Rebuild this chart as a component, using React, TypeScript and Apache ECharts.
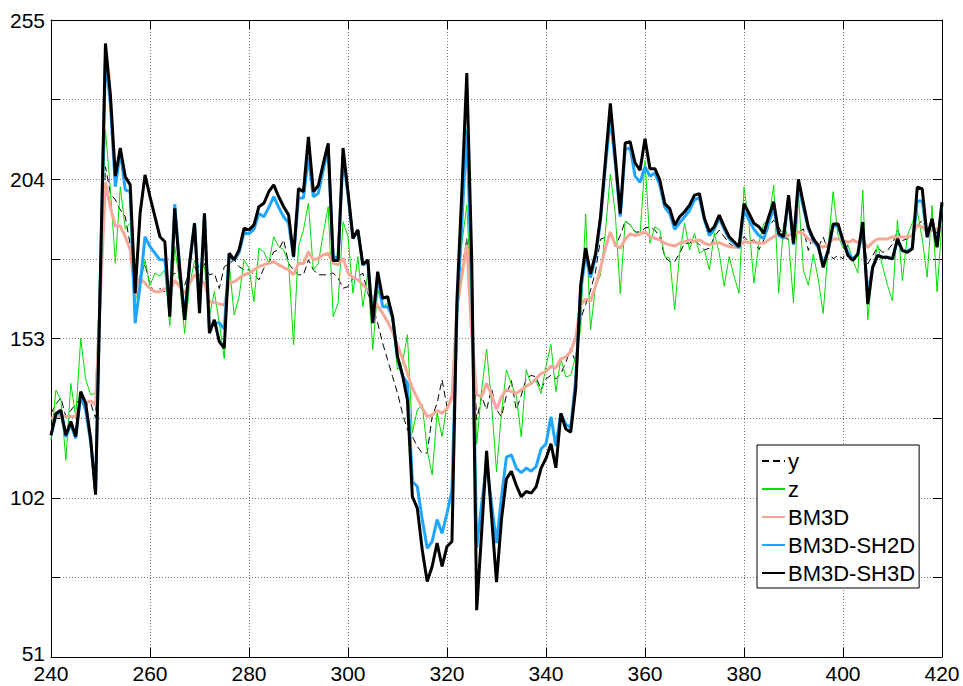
import React, { useEffect, useRef } from "react";
import * as echarts from "echarts";

const X_START = 240;

const SERIES_NAMES = ["y", "z", "BM3D", "BM3D-SH2D", "BM3D-SH3D"];

// reference y (dashed)
const Y_VALUES = [
  129, 132, 134, 128, 130, 132, 134, 131.7, 132.3, 127.5,
  168, 208, 199.5, 197.4, 194.2, 192, 183, 168, 173, 177,
  170, 168, 169, 168, 172, 174, 172, 170, 175, 176,
  173, 177, 173.4, 173.9, 169, 176, 177, 178.2, 176, 175,
  175, 173.4, 171.8, 175.5, 177.1, 180.8, 181.4, 184.6, 177, 175,
  173.4, 173.4, 178.2, 175, 173.4, 173.4, 173.4, 174, 172.3, 169.1,
  169.6, 172.3, 172.8, 173.9, 167.5, 163.2, 157.9, 151.5, 146.2, 140.8,
  135.5, 129.1, 123.8, 121.6, 118.4, 116.3, 116.3, 128, 132.3, 139.8,
  131, 135, 160, 175, 185, 158, 127, 134.4, 130.2, 137,
  130.2, 127.9, 134.8, 139.5, 130.2, 134.8, 140.1, 141.2, 140.7, 136.6,
  140.1, 141.2, 140.1, 141.8, 145.3, 149.9, 145.3, 159.2, 163.9, 168.5,
  174.3, 184.8, 185.4, 186.5, 182.5, 186, 190.6, 189.4, 187.1, 187.1,
  188.3, 188.8, 187.7, 185.6, 179.2, 177.6, 177.6, 180.3, 183.5, 183.5,
  184.6, 183, 181.4, 181.9, 185.6, 187.7, 185.6, 183.5, 182.4, 181.9,
  185.6, 184, 184.6, 181.4, 184.6, 188.8, 190.9, 188.8, 185.6, 184.6,
  185, 187, 188.1, 181.2, 186, 182.2, 185.5, 181.2, 178.5, 179.6,
  178.5, 183.3, 184.9, 183.8, 185.5, 176.9, 179.6, 182.2, 180.6, 181.2,
  183.3, 187.6, 184.4, 184.9, 186, 189.2, 190.8, 187.6, 189.7, 186.5,
  188.7,
];

// noisy observation z (green)
const Z_VALUES = [
  120.5, 136.5, 133.3, 114, 138.6, 128, 153, 140, 135, 135.5,
  178, 219.8, 200.6, 177.1, 201.6, 188, 190, 165, 170, 178,
  170, 174, 173, 175, 157, 182.5, 170.7, 154.6, 170, 178,
  176, 176, 160, 168, 158, 146.6, 177, 160.5, 166.4, 178.2,
  175.5, 164.8, 181.9, 180.8, 177.1, 185.6, 182.4, 181.4, 177.1, 151,
  182.4, 187.8, 196.3, 175, 177, 186.7, 195.2, 160, 164.3, 190.4,
  185.7, 167.5, 179.2, 163.2, 173.9, 149.4, 168.6, 163.2, 164.3, 157.9,
  143, 145.1, 154.2, 122.7, 130.2, 131.8, 117.3, 109.3, 129.1, 121.6,
  131.5, 133.9, 168, 183.3, 195.7, 163.3, 119.1, 136.6, 149.6, 132.3,
  110.3, 129, 143, 138.3, 134.8, 121.5, 143, 138.3, 139.5, 135.4,
  144.1, 151.1, 136, 146.5, 140.7, 141.2, 147.6, 155.8, 192.9, 155.8,
  169.7, 173.2, 187, 205.7, 192.9, 167.4, 190.6, 189.4, 187.1, 186,
  210, 183.5, 188.8, 187.7, 179.2, 178.7, 162.2, 180.3, 189.9, 181.4,
  186.7, 180.3, 181.4, 175, 186.7, 180.3, 169.7, 179.2, 172.9, 167.5,
  201.5, 189.9, 170.7, 183.5, 189.9, 190.9, 202.1, 167.5, 189.9, 184.6,
  164.4, 199.4, 175, 170, 180, 172, 161, 182, 200, 186,
  182, 183, 178, 174, 200.5, 159, 175, 183, 176, 170,
  165, 191, 171.5, 186, 190, 194, 185, 172.6, 195.6, 168,
  190,
];

const BM3D_VALUES = [
  127.4, 128, 128, 128, 128, 128, 132.8, 132.3, 133, 131.7,
  167, 203, 195, 189, 189, 185.6, 181.4, 166.4, 172.3, 170.7,
  169.1, 168, 168, 169, 168, 171.7, 169.6, 167.5, 170.7, 173.4,
  171.7, 170.7, 164.8, 164.5, 164.1, 163.7, 170.7, 171.2, 172.3, 173.4,
  173.9, 175, 176, 176.6, 177.1, 177.6, 176.6, 175.8, 175, 173.4,
  177.1, 177, 180.8, 178.2, 178.7, 179.8, 180.3, 177.1, 176.6, 178.7,
  174, 172.5, 171.8, 170.2, 168.6, 166.4, 163.4, 161.1, 158.4, 155.2,
  150.9, 146.7, 141.9, 137.1, 133.9, 130.7, 128, 128.5, 129.9, 129.1,
  130.5, 134, 163, 173, 183, 154, 135, 134.4, 138.6, 135,
  130.3, 134.3, 136.6, 136, 135.4, 136.6, 137.7, 138.6, 140.1, 141.8,
  142.4, 144.1, 143.6, 146.5, 147.1, 148.8, 153.4, 163.9, 165.6, 165,
  169.7, 175.5, 181.9, 187.1, 183, 181.9, 184.8, 186.5, 186, 186.5,
  187.1, 185.6, 185.1, 184.6, 183.5, 183, 182.6, 183.5, 184, 184.6,
  184, 184.6, 183.5, 183, 183.5, 183.7, 183, 182.4, 182.2, 182.4,
  184, 183.7, 184, 183.5, 183.5, 184.6, 185.6, 186.7, 185.1, 186.1,
  186.5, 187.1, 186.5, 184.9, 183.8, 182.8, 182.2, 183.3, 184.9, 184.9,
  184.4, 183.8, 184.4, 183.8, 184.4, 182.2, 183.8, 184.9, 184.9, 184.9,
  185.5, 185.5, 185.5, 185.5, 186, 189.2, 188.7, 187.1, 187.6, 188.1,
  188.1,
];

const SH2D_VALUES = [
  122, 128.5, 129.5, 121.5, 125.5, 121, 135, 130, 120, 104,
  174, 243.3, 228, 201.6, 213, 200.6, 200, 157.9, 170, 185.6,
  182.4, 180.3, 178.2, 178.2, 162, 196, 176, 160, 177, 190,
  163, 193, 156, 158, 158, 156, 180, 178, 180.5, 187,
  186.5, 188, 193, 192, 195, 198.4, 195, 192, 190, 179,
  198, 198, 211.2, 198.4, 199.5, 207, 213.6, 179, 179, 211,
  199, 185, 187.5, 176.5, 178, 158.5, 173, 163.2, 163.2, 160,
  147, 141, 138.7, 107.2, 105.6, 95, 85.8, 88, 95, 90.6,
  97, 104.5, 160, 190, 220, 170, 86, 100, 112.7, 100,
  87.5, 102, 115, 115.7, 111.5, 110, 111.5, 110.5, 112, 117.6,
  119.3, 127.9, 118.6, 129, 125.5, 124.5, 140, 168, 180, 172.5,
  179, 190.5, 208, 224, 209, 192, 213.5, 214, 205, 203,
  208, 205, 206, 202, 195, 193, 188, 190, 192, 194,
  197.5, 198, 191, 186, 188, 191.5, 188, 185, 183.5, 182,
  194, 191, 188, 186, 185, 190, 195, 186, 185, 198,
  183, 202, 195, 188, 184.5, 182, 177, 181, 189, 189,
  184, 180.5, 178.5, 180, 188, 167, 176, 179.5, 179, 179,
  178.5, 184.5, 181, 181, 182, 197, 197, 185.5, 191, 182.5,
  196,
];

const SH3D_VALUES = [
  122, 129, 130, 122, 126.4, 121.6, 136, 132.3, 121, 103,
  175, 247.5, 231, 205, 214, 204.8, 202.2, 167.5, 193.1, 205.4,
  198.4, 192, 185.6, 184, 160, 194.7, 175, 159, 177.1, 189.9,
  161.1, 193.1, 154.7, 159, 152, 149.9, 180.3, 178.2, 181.4, 188.3,
  187.8, 189.4, 195.2, 196.3, 200, 202.2, 198.4, 195.2, 192.6, 179.2,
  201, 200, 217.6, 200, 202, 209, 215.5, 178, 178, 214,
  200, 185.1, 187.8, 176.6, 178.2, 157.9, 174.4, 165.9, 166.4, 160,
  147.2, 141.4, 133.4, 102.4, 98.7, 85.3, 75.2, 80, 87.5, 80,
  86.4, 88, 165, 200, 238, 178, 66, 91, 117, 96,
  75, 95, 108, 110.5, 106, 102.3, 104, 103.5, 105.5, 111.5,
  114.6, 119.3, 111.6, 129, 124, 123, 137, 170, 182, 173.7,
  180, 191.8, 210, 228.3, 211, 193, 215.6, 216, 209.2, 206.9,
  217, 207.4, 207.4, 203.7, 196.2, 194.6, 189.3, 192, 193.6, 195.7,
  198.9, 199.4, 191.5, 187.2, 188.8, 192.5, 188.8, 185.6, 184, 182.4,
  196.2, 193.1, 189.9, 188.8, 186.7, 192, 196.8, 186.7, 185.6, 198.9,
  183.5, 204, 196.2, 188.7, 184.9, 182.8, 175.8, 181.2, 189.7, 189.7,
  184.4, 179.6, 178, 180.1, 190.3, 164, 175.8, 179.6, 179, 179,
  178.5, 184.9, 181.2, 180.6, 181.7, 201.5, 201, 185.5, 191.4, 182.2,
  196.7,
];

const X_MIN = 240;
const X_MAX = 420;
const X_STEP = 20;
const Y_MIN = 51;
const Y_MAX = 255;
const Y_STEP = 25.5;
const Y_LABEL_STEP = 51;

const FONT = "'Liberation Sans', Arial, Helvetica, sans-serif";

function toPairs(values: number[]) {
  return values.map((v, i) => [X_START + i, v]);
}

export default function App() {
  const ref = useRef<HTMLDivElement>(null);

  useEffect(() => {
    if (!ref.current) return;
    const chart = echarts.init(ref.current, null, { renderer: "svg" });

    const gridLine = { show: true, lineStyle: { color: "#7a7a7a", type: [1, 2], width: 1 } };
    const axisLine = { show: true, onZero: false, lineStyle: { color: "#000", width: 1 } };
    const tick = { show: true, inside: true, length: 9, lineStyle: { color: "#000", width: 1 } };

    const series = [
      { name: SERIES_NAMES[0], values: Y_VALUES, color: "#000000", width: 1, type: [7, 4] },
      { name: SERIES_NAMES[1], values: Z_VALUES, color: "#00dd00", width: 1, type: "solid" },
      { name: SERIES_NAMES[2], values: BM3D_VALUES, color: "#f6a898", width: 3, type: "solid" },
      { name: SERIES_NAMES[3], values: SH2D_VALUES, color: "#1ea5ff", width: 3, type: "solid" },
      { name: SERIES_NAMES[4], values: SH3D_VALUES, color: "#000000", width: 3, type: "solid" },
    ].map((s) => ({
      name: s.name,
      type: "line",
      data: toPairs(s.values),
      symbol: "none",
      showSymbol: false,
      xAxisIndex: 0,
      yAxisIndex: 0,
      color: s.color,
      lineStyle: { color: s.color, width: s.width, type: s.type },
      emphasis: { disabled: true },
    }));

    chart.setOption({
      animation: false,
      backgroundColor: "#ffffff",
      grid: { left: 51, right: 21, top: 20, bottom: 29, containLabel: false },
      legend: {
        orient: "vertical",
        left: 757,
        top: 445,
        padding: [5, 4, 4, 4],
        itemWidth: 23,
        itemHeight: 14,
        itemGap: 6,
        borderColor: "#000",
        borderWidth: 1,
        borderRadius: 0,
        backgroundColor: "#fff",
        selectedMode: false,
        itemStyle: { opacity: 0, borderWidth: 0 },
        textStyle: { fontSize: 22, lineHeight: 22, fontFamily: FONT, color: "#000", padding: [0, 0, 0, -2] },
        data: SERIES_NAMES,
      },
      xAxis: [
        {
          type: "value",
          min: X_MIN,
          max: X_MAX,
          interval: X_STEP,
          position: "bottom",
          axisLine,
          axisTick: tick,
          splitLine: gridLine,
          axisLabel: { show: true, fontSize: 21, fontFamily: FONT, color: "#000", margin: 6 },
        },
        {
          type: "value",
          min: X_MIN,
          max: X_MAX,
          interval: X_STEP,
          position: "top",
          axisLine,
          axisTick: tick,
          splitLine: { show: false },
          axisLabel: { show: false },
        },
      ],
      yAxis: [
        {
          type: "value",
          min: Y_MIN,
          max: Y_MAX,
          interval: Y_STEP,
          position: "left",
          axisLine,
          axisTick: tick,
          splitLine: gridLine,
          axisLabel: {
            show: true,
            fontSize: 21,
            fontFamily: FONT,
            color: "#000",
            margin: 6,
            formatter: (v: number) => {
              if (Math.abs(v / Y_LABEL_STEP - Math.round(v / Y_LABEL_STEP)) > 1e-6) return "";
              return v === Y_MIN ? "{low|" + v + "}" : String(v);
            },
            rich: { low: { fontSize: 21, fontFamily: FONT, color: "#000", padding: [0, 0, 8, 0] } },
          },
        },
        {
          type: "value",
          min: Y_MIN,
          max: Y_MAX,
          interval: Y_STEP,
          position: "right",
          axisLine,
          axisTick: tick,
          splitLine: { show: false },
          axisLabel: { show: false },
        },
      ],
      series,
    });

    return () => chart.dispose();
  }, []);

  return (
    <div
      ref={ref}
      style={{ position: "absolute", left: 0, top: 0, width: 963, height: 686, background: "#fff" }}
    />
  );
}
